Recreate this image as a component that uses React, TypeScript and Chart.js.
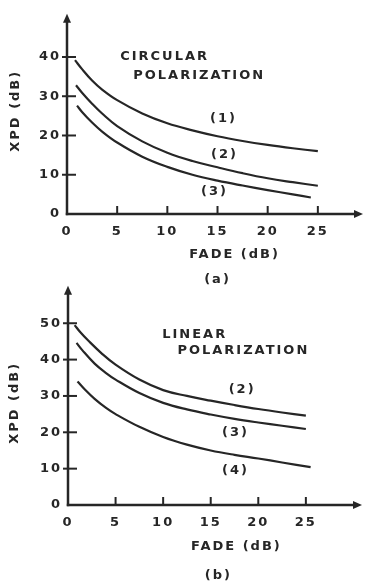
import React, { useEffect, useRef } from 'react';
import { Chart, registerables } from 'chart.js';

Chart.register(...registerables);

const INK = '#262626';
const FONT_FAMILY = '"DejaVu Sans", "Liberation Sans", sans-serif';
const FONT_SIZE = 13;
const LETTER_SPACING = '2px';

// ---------- common ticks ----------
const fadeTicks = [0, 5, 10, 15, 20, 25];
const xpdTicksA = [0, 10, 20, 30, 40];
const xpdTicksB = [0, 10, 20, 30, 40, 50];

// ---------- Panel (a): circular polarization ----------
const fadeA1 = [0.8, 1.5, 2.5, 3.5, 5, 7.5, 10, 12.5, 15, 17.5, 20, 22.5, 25];
const xpdA1 = [39.2, 36.9, 34.0, 31.7, 29.0, 25.6, 23.1, 21.3, 19.8, 18.6, 17.6, 16.75, 16];
const fadeA2 = [0.9, 1.5, 2.5, 3.5, 5, 7.5, 10, 12.5, 15, 17.5, 20, 22.5, 25];
const xpdA2 = [32.8, 30.9, 28.1, 25.6, 22.4, 18.5, 15.6, 13.5, 11.9, 10.4, 9.1, 8.1, 7.2];
const fadeA3 = [1.0, 1.5, 2.5, 3.5, 5, 7.5, 10, 12.5, 15, 17.5, 20, 22.5, 24.3];
const xpdA3 = [27.6, 26.0, 23.3, 21.0, 18.2, 14.6, 12.0, 10.0, 8.5, 7.25, 6.1, 5.0, 4.2];

const notesA = [
  { text: 'CIRCULAR', x: 5.3, y: 40, align: 'left' },
  { text: 'POLARIZATION', x: 6.6, y: 35.2, align: 'left' },
  { text: '(1)', x: 15.6, y: 24.3, align: 'center' },
  { text: '(2)', x: 15.7, y: 15.2, align: 'center' },
  { text: '(3)', x: 14.7, y: 5.6, align: 'center' },
];

// ---------- Panel (b): linear polarization ----------
const fadeB2 = [0.7, 1.3, 2.1, 3.5, 5, 7.5, 10, 12.5, 15, 17.5, 20, 22.5, 25];
const xpdB2 = [49.5, 47.5, 45.3, 41.8, 38.6, 34.5, 31.6, 30.0, 28.7, 27.5, 26.4, 25.45, 24.6];
const fadeB3 = [0.9, 1.5, 2.8, 4, 5, 7.5, 10, 12.5, 15, 17.5, 20, 22.5, 25];
const xpdB3 = [44.6, 42.6, 38.9, 36.3, 34.5, 30.8, 28.1, 26.3, 24.9, 23.7, 22.7, 21.8, 20.9];
const fadeB4 = [1.0, 1.8, 2.8, 4, 5, 7.5, 10, 12.5, 15, 17.5, 20, 22.5, 25.5];
const xpdB4 = [34, 31.7, 29.2, 26.7, 25.0, 21.5, 18.7, 16.6, 15.0, 13.8, 12.8, 11.7, 10.4];

const notesB = [
  { text: 'LINEAR', x: 9.9, y: 46.8, align: 'left' },
  { text: 'POLARIZATION', x: 11.5, y: 42.4, align: 'left' },
  { text: '(2)', x: 18.3, y: 31.7, align: 'center' },
  { text: '(3)', x: 17.6, y: 19.8, align: 'center' },
  { text: '(4)', x: 17.6, y: 9.5, align: 'center' },
];

const toPoints = (xs: number[], ys: number[]) => xs.map((x, i) => ({ x, y: ys[i] }));

const decorPlugin = {
  id: 'decor',
  beforeDraw(chart: any) {
    chart.ctx.letterSpacing = LETTER_SPACING;
  },
  afterDraw(chart: any, _args: any, opts: any) {
    const { ctx, chartArea, scales } = chart;
    const xs = scales.x;
    const ys = scales.y;
    const x0 = xs.getPixelForValue(0);
    const y0 = ys.getPixelForValue(0);
    const top = chartArea.top;
    const right = chartArea.right;
    ctx.save();
    ctx.strokeStyle = INK;
    ctx.fillStyle = INK;
    ctx.lineWidth = 2.5;
    const line = (a: number, b: number, c: number, d: number) => {
      ctx.beginPath();
      ctx.moveTo(a, b);
      ctx.lineTo(c, d);
      ctx.stroke();
    };
    // y axis + arrow
    line(x0, y0 + 1.2, x0, top + 6);
    ctx.beginPath();
    ctx.moveTo(x0, top);
    ctx.lineTo(x0 - 4, top + 9);
    ctx.lineTo(x0 + 4, top + 9);
    ctx.closePath();
    ctx.fill();
    // x axis + arrow
    line(x0 - 1.2, y0, right - 6, y0);
    ctx.beginPath();
    ctx.moveTo(right, y0);
    ctx.lineTo(right - 9, y0 - 4);
    ctx.lineTo(right - 9, y0 + 4);
    ctx.closePath();
    ctx.fill();
    // tick marks
    ctx.lineWidth = 2;
    for (const t of xs.ticks) {
      if (t.value === 0) continue;
      const px = xs.getPixelForValue(t.value);
      line(px, y0, px, y0 - 8);
    }
    for (const t of ys.ticks) {
      if (t.value === 0) continue;
      const py = ys.getPixelForValue(t.value);
      line(x0 - 5, py, x0 + 9, py);
    }
    // texts
    ctx.font = `bold ${FONT_SIZE}px ${FONT_FAMILY}`;
    ctx.textBaseline = 'middle';
    for (const n of opts.notes) {
      ctx.textAlign = n.align;
      ctx.fillText(n.text, xs.getPixelForValue(n.x), ys.getPixelForValue(n.y));
    }
    ctx.textAlign = 'center';
    for (const l of opts.xTitle) {
      ctx.fillText(l.text, xs.getPixelForValue(l.x), y0 + l.dy);
    }
    const yt = opts.yTitle;
    ctx.translate(x0 + yt.dx, ys.getPixelForValue(yt.y));
    ctx.rotate(-Math.PI / 2);
    ctx.fillText(yt.text, 0, 0);
    ctx.restore();
  },
};

function makeConfig(p: any) {
  const font = { family: FONT_FAMILY, size: FONT_SIZE, weight: 'bold' as const };
  return {
    type: 'line' as const,
    data: {
      datasets: p.series.map((s: any) => ({
        data: s,
        borderColor: INK,
        borderWidth: 2.2,
        pointRadius: 0,
        fill: false,
        tension: 0.4,
        cubicInterpolationMode: 'default',
      })),
    },
    options: {
      responsive: false,
      animation: false,
      events: [],
      layout: { padding: { left: 0, right: p.padRight, top: p.padTop, bottom: 0 } },
      plugins: {
        legend: { display: false },
        tooltip: { enabled: false },
        decor: { notes: p.notes, xTitle: p.xTitle, yTitle: p.yTitle },
      },
      scales: {
        x: {
          type: 'linear',
          min: 0,
          max: p.xMax,
          afterBuildTicks: (s: any) => {
            s.ticks = fadeTicks.map((v) => ({ value: v }));
          },
          afterFit: (s: any) => {
            s.height = p.xHeight;
          },
          grid: { display: false, drawTicks: false },
          border: { display: false },
          ticks: { color: INK, font, padding: p.xPad, maxRotation: 0, autoSkip: false },
        },
        y: {
          type: 'linear',
          min: 0,
          max: p.yMax,
          afterBuildTicks: (s: any) => {
            s.ticks = p.yTicks.map((v: number) => ({ value: v }));
          },
          afterFit: (s: any) => {
            s.width = p.yWidth;
          },
          grid: { display: false, drawTicks: false },
          border: { display: false },
          ticks: { color: INK, font, padding: 6, autoSkip: false },
        },
      },
    },
    plugins: [decorPlugin],
  };
}

export default function App() {
  const refA = useRef<HTMLCanvasElement>(null);
  const refB = useRef<HTMLCanvasElement>(null);

  useEffect(() => {
    const chartA = new Chart(
      refA.current as HTMLCanvasElement,
      makeConfig({
        series: [toPoints(fadeA1, xpdA1), toPoints(fadeA2, xpdA2), toPoints(fadeA3, xpdA3)],
        notes: notesA,
        xTitle: [
          { text: 'FADE (dB)', x: 16.7, dy: 41 },
          { text: '(a)', x: 15, dy: 66 },
        ],
        yTitle: { text: 'XPD (dB)', dx: -51, y: 26.3 },
        xMax: 29.5,
        yMax: 51,
        yTicks: xpdTicksA,
        padTop: 12,
        padRight: 2,
        xHeight: 76,
        yWidth: 67,
        xPad: 10,
      }) as any
    );
    const chartB = new Chart(
      refB.current as HTMLCanvasElement,
      makeConfig({
        series: [toPoints(fadeB2, xpdB2), toPoints(fadeB3, xpdB3), toPoints(fadeB4, xpdB4)],
        notes: notesB,
        xTitle: [
          { text: 'FADE (dB)', x: 17.7, dy: 42 },
          { text: '(b)', x: 15.8, dy: 71 },
        ],
        yTitle: { text: 'XPD (dB)', dx: -53, y: 28.1 },
        xMax: 30.9,
        yMax: 60.3,
        yTicks: xpdTicksB,
        padTop: 10,
        padRight: 3,
        xHeight: 78,
        yWidth: 68,
        xPad: 10,
      }) as any
    );
    return () => {
      chartA.destroy();
      chartB.destroy();
    };
  }, []);

  return (
    <div style={{ position: 'absolute', left: 0, top: 0, width: 365, height: 583, background: '#fff' }}>
      <canvas
        ref={refA}
        width={365}
        height={290}
        style={{ position: 'absolute', left: 0, top: 0, width: 365, height: 290 }}
      />
      <canvas
        ref={refB}
        width={365}
        height={311}
        style={{ position: 'absolute', left: 0, top: 272, width: 365, height: 311 }}
      />
    </div>
  );
}
